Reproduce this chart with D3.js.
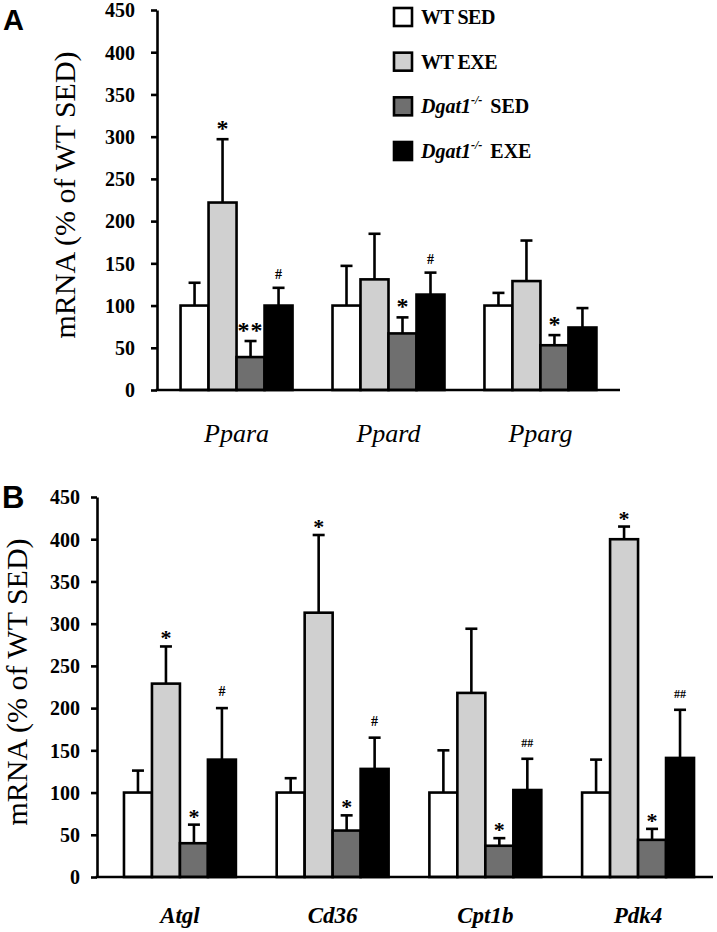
<!DOCTYPE html>
<html>
<head>
<meta charset="utf-8">
<script src="https://cdn.jsdelivr.net/npm/d3@7/dist/d3.min.js"></script>
<style>
  html, body { margin: 0; padding: 0; background: #fff; }
  svg { display: block; }
</style>
</head>
<body>
<svg id="chart" width="717" height="932"></svg>
<script>
// ---------- DATA ----------
const seriesKeys = ["wtSed", "wtExe", "koSed", "koExe"];
const yTicks = [0, 50, 100, 150, 200, 250, 300, 350, 400, 450];

// Panel A
const genesA = ["Ppara", "Ppard", "Pparg"];
const meanA_wtSed = [100, 100, 100];
const meanA_wtExe = [222, 131, 129];
const meanA_koSed = [39, 67, 53];
const meanA_koExe = [100, 113, 74];
const errA_wtSed = [27, 47, 15];
const errA_wtExe = [75, 54, 48];
const errA_koSed = [19, 19, 12];
const errA_koExe = [21, 26, 23];
const sigA_wtSed = ["", "", ""];
const sigA_wtExe = ["*", "", ""];
const sigA_koSed = ["**", "*", "*"];
const sigA_koExe = ["#", "#", ""];

// Panel B
const genesB = ["Atgl", "Cd36", "Cpt1b", "Pdk4"];
const meanB_wtSed = [100, 100, 100, 100];
const meanB_wtExe = [229, 313, 218, 400];
const meanB_koSed = [40, 55, 37, 44];
const meanB_koExe = [139, 128, 103, 141];
const errB_wtSed = [26, 17, 50, 39];
const errB_wtExe = [44, 92, 76, 15];
const errB_koSed = [22, 18, 9, 13];
const errB_koExe = [61, 37, 37, 57];
const sigB_wtSed = ["", "", "", ""];
const sigB_wtExe = ["*", "*", "", "*"];
const sigB_koSed = ["*", "*", "*", "*"];
const sigB_koExe = ["#", "#", "##", "##"];

// ---------- STYLE ----------
const fills = { wtSed: "#ffffff", wtExe: "#d0d0d0", koSed: "#6f6f6f", koExe: "#000000" };
const SERIF = "'Liberation Serif', 'Times New Roman', serif";
const SANS = "'Liberation Sans', Arial, sans-serif";
const SW = 2.6;

const svg = d3.select("#chart");

function buildRows(genes, means, errs, sigs) {
  return genes.map((g, i) => ({
    gene: g,
    vals: seriesKeys.map(k => ({ key: k, mean: means[k][i], err: errs[k][i], sig: sigs[k][i] }))
  }));
}

function drawPanel(opt) {
  const g = svg.append("g");
  const y = d3.scaleLinear().domain([0, 450]).range([opt.y0, opt.y450]);
  const x = d3.scaleBand().domain(opt.genes).range(opt.bandRange)
    .paddingInner(opt.padIn).paddingOuter(opt.padOut);
  const xs = d3.scaleBand().domain(seriesKeys).range([0, x.bandwidth()]).padding(0);

  // y axis
  const ax = g.append("g").attr("transform", `translate(${opt.axisX},0)`)
    .call(d3.axisLeft(y).tickValues(yTicks).tickSize(6).tickSizeOuter(0).tickPadding(opt.tickPad));
  ax.select(".domain").attr("stroke", "#000").attr("stroke-width", SW);
  ax.selectAll(".tick line").attr("stroke", "#000").attr("stroke-width", SW);
  ax.selectAll(".tick text").attr("font-family", SERIF).attr("font-weight", "bold")
    .attr("font-size", opt.tickFont).attr("fill", "#000").attr("dy", "0.34em");

  // groups
  const grp = g.selectAll("g.grp").data(opt.rows).join("g")
    .attr("class", "grp").attr("transform", d => `translate(${x(d.gene)},0)`);

  // error bars (upward only)
  const eb = grp.selectAll("g.eb").data(d => d.vals).join("g").attr("class", "eb");
  eb.append("line")
    .attr("x1", d => xs(d.key) + xs.bandwidth() / 2).attr("x2", d => xs(d.key) + xs.bandwidth() / 2)
    .attr("y1", d => y(d.mean)).attr("y2", d => y(d.mean + d.err))
    .attr("stroke", "#000").attr("stroke-width", SW);
  eb.append("line")
    .attr("x1", d => xs(d.key) + xs.bandwidth() / 2 - 6).attr("x2", d => xs(d.key) + xs.bandwidth() / 2 + 6)
    .attr("y1", d => y(d.mean + d.err)).attr("y2", d => y(d.mean + d.err))
    .attr("stroke", "#000").attr("stroke-width", SW);

  // bars
  grp.selectAll("rect").data(d => d.vals).join("rect")
    .attr("x", d => xs(d.key)).attr("width", xs.bandwidth())
    .attr("y", d => y(d.mean)).attr("height", d => y(0) - y(d.mean))
    .attr("fill", d => fills[d.key]).attr("stroke", "#000").attr("stroke-width", SW);

  // significance marks
  grp.selectAll("text.sig").data(d => d.vals.filter(v => v.sig)).join("text")
    .attr("class", "sig")
    .attr("x", d => xs(d.key) + xs.bandwidth() / 2)
    .attr("y", d => y(d.mean + d.err) - (d.sig[0] === "*" ? opt.starGap : opt.hashGap))
    .attr("text-anchor", "middle")
    .attr("font-family", SERIF).attr("font-weight", "bold")
    .attr("font-size", d => d.sig[0] === "*" ? opt.starFont : (d.sig.length > 1 ? opt.hashFont - 2 : opt.hashFont))
    .attr("fill", "#000")
    .attr("letter-spacing", d => d.sig === "**" ? "1px" : null)
    .text(d => d.sig);

  // x axis line
  g.append("line").attr("x1", opt.axisX - SW / 2).attr("x2", opt.xEnd)
    .attr("y1", y(0)).attr("y2", y(0)).attr("stroke", "#000").attr("stroke-width", SW);

  // category labels
  g.selectAll("text.cat").data(opt.genes).join("text").attr("class", "cat")
    .attr("x", d => x(d) + x.bandwidth() / 2).attr("y", opt.catY)
    .attr("text-anchor", "middle").attr("font-family", SERIF).attr("font-style", "italic")
    .attr("font-weight", opt.catWeight).attr("font-size", opt.catFont).attr("fill", "#000")
    .text(d => d);

  // y label
  g.append("text")
    .attr("transform", `translate(${opt.ylabX},${opt.ylabY}) rotate(-90)`)
    .attr("text-anchor", "middle").attr("font-family", SERIF).attr("font-size", 30).attr("fill", "#000")
    .text("mRNA (% of WT SED)");

  // panel letter
  g.append("text").attr("x", opt.letterX).attr("y", opt.letterY)
    .attr("font-family", SANS).attr("font-weight", "bold").attr("font-size", opt.letterFont).attr("fill", "#000")
    .text(opt.letter);
}

const rowsA = buildRows(genesA,
  { wtSed: meanA_wtSed, wtExe: meanA_wtExe, koSed: meanA_koSed, koExe: meanA_koExe },
  { wtSed: errA_wtSed, wtExe: errA_wtExe, koSed: errA_koSed, koExe: errA_koExe },
  { wtSed: sigA_wtSed, wtExe: sigA_wtExe, koSed: sigA_koSed, koExe: sigA_koExe });

const rowsB = buildRows(genesB,
  { wtSed: meanB_wtSed, wtExe: meanB_wtExe, koSed: meanB_koSed, koExe: meanB_koExe },
  { wtSed: errB_wtSed, wtExe: errB_wtExe, koSed: errB_koSed, koExe: errB_koExe },
  { wtSed: sigB_wtSed, wtExe: sigB_wtExe, koSed: sigB_koSed, koExe: sigB_koExe });

drawPanel({
  rows: rowsA, genes: genesA, y0: 390, y450: 10, axisX: 157, xEnd: 620,
  bandRange: [157, 620], padIn: 0.263, padOut: 0.155, tickPad: 16, tickFont: 20,
  starGap: 3, hashGap: 9, starFont: 24, hashFont: 14,
  catY: 442, catFont: 26, catWeight: "normal",
  ylabX: 75, ylabY: 195, letter: "A", letterX: 3, letterY: 30, letterFont: 29
});

drawPanel({
  rows: rowsB, genes: genesB, y0: 877, y450: 497, axisX: 97, xEnd: 713,
  bandRange: [100, 718], padIn: 0.267, padOut: 0.157, tickPad: 11, tickFont: 20,
  starGap: 1, hashGap: 12, starFont: 22, hashFont: 14,
  catY: 923, catFont: 23, catWeight: "bold",
  ylabX: 27, ylabY: 682, letter: "B", letterX: 2, letterY: 508, letterFont: 31
});

// ---------- LEGEND ----------
const legendItems = [
  { key: "wtSed", pre: "WT SED", italic: "", post: "" },
  { key: "wtExe", pre: "WT EXE", italic: "", post: "" },
  { key: "koSed", pre: "", italic: "Dgat1", post: "SED" },
  { key: "koExe", pre: "", italic: "Dgat1", post: "EXE" }
];
const legY = d3.scalePoint().domain(legendItems.map(d => d.key)).range([17, 151]);
const leg = svg.append("g");
const li = leg.selectAll("g").data(legendItems).join("g")
  .attr("transform", d => `translate(394,${legY(d.key)})`);
li.append("rect").attr("x", 0).attr("y", -9).attr("width", 18).attr("height", 18)
  .attr("fill", d => fills[d.key]).attr("stroke", "#000").attr("stroke-width", SW);
const lt = li.append("text").attr("x", 27).attr("y", 7)
  .attr("font-family", SERIF).attr("font-size", 20).attr("font-weight", "bold").attr("fill", "#000");
lt.each(function(d) {
  const t = d3.select(this);
  if (d.pre) {
    t.append("tspan").attr("letter-spacing", "-0.5px").text(d.pre);
  } else {
    t.append("tspan").attr("font-style", "italic").attr("font-weight", "bold").text(d.italic);
    t.append("tspan").attr("font-size", 12).attr("dy", -9).attr("font-style", "italic").text("-/-");
    t.append("tspan").attr("dy", 9).attr("dx", 8).text(d.post);
  }
});
</script>
</body>
</html>
